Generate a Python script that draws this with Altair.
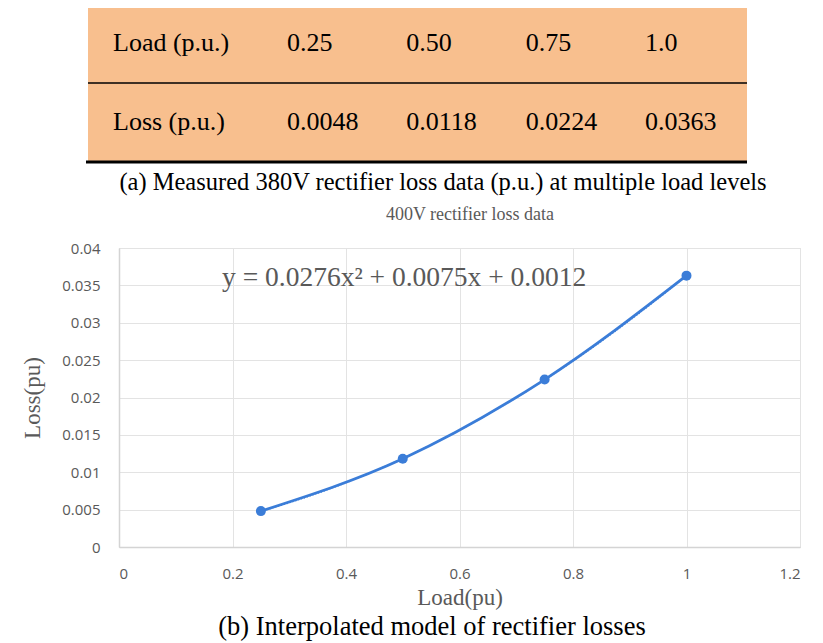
import altair as alt
import pandas as pd

# ---- data ----
table_rows = ["Load (p.u.)", "Loss (p.u.)"]
table_load = ["0.25", "0.50", "0.75", "1.0"]
table_loss = ["0.0048", "0.0118", "0.0224", "0.0363"]

load_pu = [0.25, 0.50, 0.75, 1.0]
loss_pu = [0.0048, 0.0118, 0.0224, 0.0363]

x_ticks = [0, 0.2, 0.4, 0.6, 0.8, 1.0, 1.2]
y_ticks = [0, 0.005, 0.01, 0.015, 0.02, 0.025, 0.03, 0.035, 0.04]

caption_a = "(a) Measured 380V rectifier loss data (p.u.) at multiple load levels"
caption_b = "(b) Interpolated model of rectifier losses"
chart_title = "400V rectifier loss data"
equation = "y = 0.0276x² + 0.0075x + 0.0012"

W, H = 681, 299
SERIF = "Liberation Serif"
SANS = "Open Sans"
GRAY = "#595959"
BLUE = "#3B7DD8"
ORANGE = "#F8BF8E"

# ---- table group ----
cells = []
for r, vals in enumerate([table_load, table_loss]):
    for c, v in enumerate(vals):
        cells.append({"row": r, "col": c, "txt": v})
cells_df = pd.DataFrame(cells)
heads_df = pd.DataFrame({"row": [0, 1], "txt": table_rows})

ys = alt.Scale(domain=[0, 1], range=[-205, -126])
xs = alt.Scale(domain=[0, 3], range=[168, 526])

one = pd.DataFrame({"a": [0]})
bg = alt.Chart(one).mark_rect(color=ORANGE).encode(
    x=alt.value(-31), x2=alt.value(628), y=alt.value(-240), y2=alt.value(-87)
)
line_mid = alt.Chart(one).mark_rule(color="black", strokeWidth=1.5).encode(
    x=alt.value(-31), x2=alt.value(628), y=alt.value(-165)
)
line_bot = alt.Chart(one).mark_rule(color="black", strokeWidth=3).encode(
    x=alt.value(-33), x2=alt.value(628), y=alt.value(-86)
)
cell_text = alt.Chart(cells_df).mark_text(
    font=SERIF, fontSize=26, align="left", baseline="middle", color="black"
).encode(
    x=alt.X("col:Q", scale=xs, axis=None),
    y=alt.Y("row:Q", scale=ys, axis=None),
    text="txt:N",
)
head_text = alt.Chart(heads_df).mark_text(
    font=SERIF, fontSize=26, align="left", baseline="middle", color="black"
).encode(
    x=alt.value(-6),
    y=alt.Y("row:Q", scale=ys, axis=None),
    text="txt:N",
)
table_group = alt.layer(bg, line_mid, line_bot, cell_text, head_text)

# ---- plot group ----
df = pd.DataFrame({"x": load_pu, "y": loss_pu})
xsc = alt.Scale(domain=[0, 1.2], nice=False)
ysc = alt.Scale(domain=[0, 0.04], nice=False)

X = alt.X("x:Q", scale=xsc, axis=alt.Axis(
    values=x_ticks, format="~g", title="Load(pu)", grid=True, gridColor="#e3e3e3",
    domainColor="#d4d4d4", domainWidth=1.5, ticks=False, labelPadding=19,
    labelFont=SANS, labelFontSize=15, labelColor=GRAY, labelOverlap=False,
    titleFont=SERIF, titleFontSize=23, titleFontWeight="normal", titleColor=GRAY, titlePadding=5,
))
Y = alt.Y("y:Q", scale=ysc, axis=alt.Axis(
    values=y_ticks, format="~g", title="Loss(pu)", grid=True, gridColor="#e3e3e3",
    domainColor="#d4d4d4", domainWidth=1.5, ticks=False, labelPadding=19,
    labelFont=SANS, labelFontSize=15, labelColor=GRAY, labelOverlap=False,
    titleFont=SERIF, titleFontSize=23, titleFontWeight="normal", titleColor=GRAY, titlePadding=17,
))

base = alt.Chart(df)
curve = base.mark_line(color=BLUE, strokeWidth=2.8, interpolate="monotone").encode(x=X, y=Y)
trend = base.transform_regression(
    "x", "y", method="poly", order=2, extent=[0.25, 1.0]
).mark_line(color=BLUE, strokeWidth=1.5, strokeDash=[1, 2]).encode(x=X, y=Y)
pts = base.mark_circle(color=BLUE, size=100, opacity=1).encode(x=X, y=Y)

eq = alt.Chart(one).mark_text(
    text=equation, font=SERIF, fontSize=27.5, color=GRAY, align="left", baseline="middle"
).encode(x=alt.value(103), y=alt.value(30))
title_t = alt.Chart(one).mark_text(
    text=chart_title, font=SERIF, fontSize=18, color=GRAY, align="center", baseline="middle"
).encode(x=alt.value(351), y=alt.value(-33))
cap_a = alt.Chart(one).mark_text(
    text=caption_a, font=SERIF, fontSize=24.5, color="black", align="center", baseline="middle"
).encode(x=alt.value(324), y=alt.value(-65))
cap_b = alt.Chart(one).mark_text(
    text=caption_b, font=SERIF, fontSize=26.5, color="black", align="center", baseline="middle"
).encode(x=alt.value(313), y=alt.value(379))

plot_group = alt.layer(curve, trend, pts, eq, title_t, cap_a, cap_b)

chart = alt.layer(table_group, plot_group).resolve_scale(
    x="independent", y="independent"
).properties(
    width=W, height=H,
    autosize=alt.AutoSizeParams(type="none"),
    padding={"left": 111, "top": 240, "right": 8, "bottom": 96},
).configure_view(stroke=None).configure(background="white")

chart.save("out.html", embed_options={"renderer": "svg", "actions": False})
